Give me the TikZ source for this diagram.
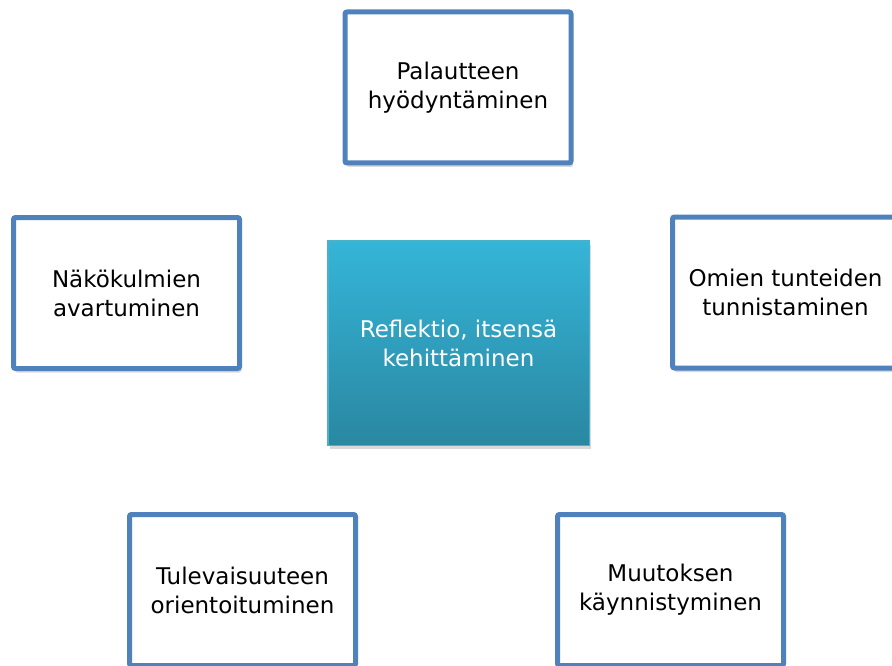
\documentclass[tikz,border=0pt]{standalone}
\usepackage{fontspec}
\setmainfont{DejaVu Sans}
\usepackage{xcolor}
\usepackage{tikz}
\usetikzlibrary{shadows}

\definecolor{topicline}{HTML}{4F81BD}
\definecolor{coretop}{HTML}{35B5D8}
\definecolor{corebottom}{HTML}{2A87A1}
\definecolor{coreline}{HTML}{4BB0CC}

\begin{document}
\begin{tikzpicture}[
    x=1pt, y=-1pt,
    every node/.style={align=center, font=\fontsize{23}{29}\selectfont},
    topic/.style={draw=topicline, line width=5pt, fill=white, rounded corners=2pt,
        minimum width=226pt, minimum height=151pt,
        drop shadow={opacity=0.3, shadow xshift=2pt, shadow yshift=-4pt}},
    core/.style={draw=coreline, line width=1.5pt, top color=coretop, bottom color=corebottom,
        text=white, minimum width=261.5pt, minimum height=204.5pt,
        drop shadow={opacity=0.3, shadow xshift=2pt, shadow yshift=-4pt}}
]
\useasboundingbox (0,0) rectangle (892,666);

\node[core] (reflektio) at (458.5,343) {Reflektio, itsensä\\kehittäminen};

\node[topic] (palaute) at (458,87.5) {Palautteen\\hyödyntäminen};
\node[topic] (nakokulmat) at (126.5,293) {Näkökulmien\\avartuminen};
\node[topic] (tunteet) at (785.5,292.5) {Omien tunteiden\\tunnistaminen};
\node[topic] (tulevaisuus) at (242.5,590) {Tulevaisuuteen\\orientoituminen};
\node[topic] (muutos) at (670.5,590) {Muutoksen\\käynnistyminen};
\end{tikzpicture}
\end{document}
